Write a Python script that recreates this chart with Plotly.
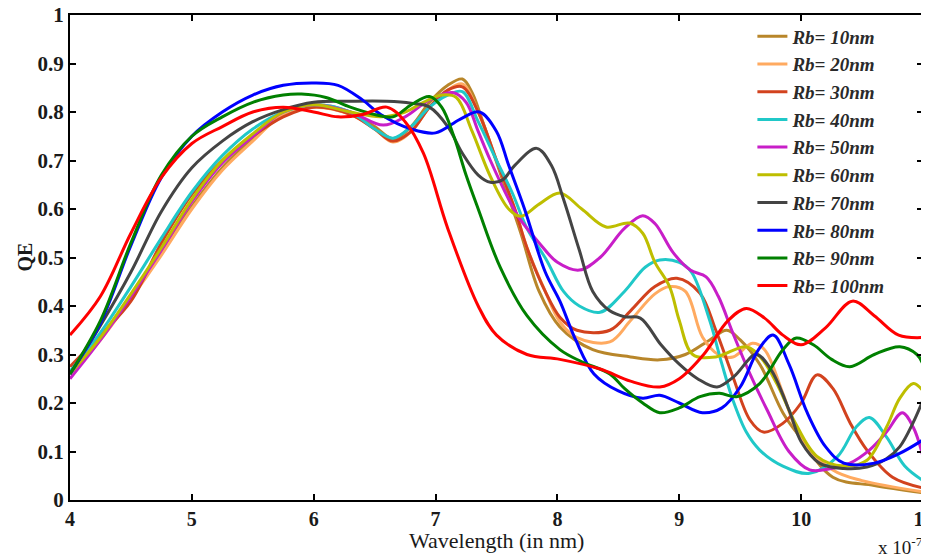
import plotly.graph_objects as go

# ---------------- data (wavelength in units of 1e-7 m) ----------------
labels = ["Rb= 10nm", "Rb= 20nm", "Rb= 30nm", "Rb= 40nm", "Rb= 50nm",
          "Rb= 60nm", "Rb= 70nm", "Rb= 80nm", "Rb= 90nm", "Rb= 100nm"]
colors = ["#B8862A", "#FFAA60", "#D2421E", "#20C8C8", "#C81EC8",
          "#BEBE00", "#444444", "#0000FF", "#008000", "#FF0000"]

x_10 = [4, 4.25, 4.5, 4.75, 5, 5.25, 5.5, 5.75, 6, 6.3, 6.5, 6.65, 6.8, 6.95, 7.1, 7.22, 7.3, 7.4, 7.55, 7.7, 7.85, 8.02, 8.29, 8.6, 8.84, 9.05, 9.25, 9.39, 9.5, 9.66, 9.85, 9.99, 10.26, 10.6, 11]
y_10 = [0.26, 0.335, 0.42, 0.51, 0.605, 0.685, 0.745, 0.795, 0.815, 0.80, 0.77, 0.745, 0.77, 0.82, 0.855, 0.868, 0.84, 0.77, 0.66, 0.55, 0.43, 0.357, 0.31, 0.295, 0.289, 0.30, 0.33, 0.35, 0.33, 0.28, 0.18, 0.13, 0.047, 0.03, 0.015]

x_20 = [4, 4.25, 4.5, 4.75, 5, 5.25, 5.5, 5.75, 6, 6.3, 6.5, 6.65, 6.8, 6.95, 7.1, 7.22, 7.35, 7.5, 7.65, 7.75, 7.9, 8.02, 8.16, 8.43, 8.6, 8.8, 8.92, 9.05, 9.19, 9.32, 9.44, 9.6, 9.7, 9.85, 9.99, 10.26, 10.5, 11]
y_20 = [0.26, 0.33, 0.415, 0.505, 0.60, 0.68, 0.74, 0.795, 0.81, 0.795, 0.765, 0.738, 0.76, 0.81, 0.845, 0.858, 0.80, 0.70, 0.60, 0.52, 0.43, 0.367, 0.335, 0.326, 0.37, 0.425, 0.44, 0.43, 0.336, 0.30, 0.295, 0.323, 0.31, 0.22, 0.13, 0.062, 0.04, 0.017]

x_30 = [4, 4.25, 4.5, 4.75, 5, 5.25, 5.5, 5.75, 6, 6.3, 6.5, 6.65, 6.8, 6.95, 7.1, 7.22, 7.35, 7.5, 7.65, 7.75, 7.9, 8.02, 8.16, 8.43, 8.6, 8.8, 8.98, 9.17, 9.3, 9.44, 9.58, 9.69, 9.85, 10.0, 10.13, 10.26, 10.4, 10.54, 10.75, 11]
y_30 = [0.275, 0.34, 0.41, 0.53, 0.63, 0.70, 0.75, 0.79, 0.81, 0.795, 0.765, 0.74, 0.76, 0.81, 0.845, 0.852, 0.80, 0.70, 0.60, 0.52, 0.43, 0.377, 0.35, 0.35, 0.39, 0.44, 0.457, 0.426, 0.35, 0.254, 0.165, 0.14, 0.158, 0.20, 0.258, 0.23, 0.16, 0.103, 0.047, 0.025]

x_40 = [4, 4.25, 4.5, 4.75, 5, 5.25, 5.5, 5.75, 6, 6.3, 6.5, 6.65, 6.8, 6.95, 7.1, 7.22, 7.35, 7.5, 7.63, 7.75, 7.91, 8.05, 8.18, 8.35, 8.55, 8.72, 8.84, 9.0, 9.1, 9.25, 9.35, 9.44, 9.55, 9.66, 9.85, 10.07, 10.3, 10.45, 10.56, 10.7, 10.85, 11]
y_40 = [0.265, 0.345, 0.44, 0.54, 0.635, 0.71, 0.765, 0.80, 0.815, 0.80, 0.765, 0.746, 0.77, 0.81, 0.835, 0.842, 0.78, 0.70, 0.633, 0.56, 0.495, 0.43, 0.40, 0.387, 0.43, 0.48, 0.495, 0.49, 0.47, 0.37, 0.28, 0.206, 0.14, 0.103, 0.07, 0.055, 0.09, 0.15, 0.17, 0.13, 0.07, 0.04]

x_50 = [4, 4.25, 4.5, 4.75, 5, 5.25, 5.5, 5.75, 6, 6.3, 6.57, 6.75, 6.95, 7.14, 7.25, 7.35, 7.45, 7.6, 7.69, 7.85, 8.0, 8.18, 8.35, 8.55, 8.7, 8.8, 8.95, 9.09, 9.22, 9.32, 9.44, 9.58, 9.72, 9.9, 10.07, 10.25, 10.4, 10.56, 10.7, 10.83, 10.92, 11]
y_50 = [0.25, 0.33, 0.42, 0.515, 0.615, 0.695, 0.75, 0.80, 0.815, 0.80, 0.773, 0.79, 0.825, 0.84, 0.82, 0.76, 0.70, 0.62, 0.58, 0.53, 0.49, 0.474, 0.50, 0.56, 0.586, 0.57, 0.51, 0.474, 0.46, 0.42, 0.344, 0.26, 0.186, 0.10, 0.062, 0.065, 0.076, 0.103, 0.14, 0.18, 0.15, 0.09]

x_60 = [4, 4.25, 4.5, 4.75, 5, 5.25, 5.5, 5.75, 6, 6.3, 6.55, 6.75, 6.9, 7.05, 7.17, 7.3, 7.45, 7.6, 7.7, 7.85, 8.02, 8.2, 8.4, 8.59, 8.7, 8.8, 8.92, 9.0, 9.11, 9.3, 9.55, 9.68, 9.8, 9.95, 10.13, 10.35, 10.54, 10.7, 10.81, 10.92, 11]
y_60 = [0.26, 0.335, 0.425, 0.52, 0.62, 0.70, 0.755, 0.80, 0.815, 0.80, 0.79, 0.80, 0.82, 0.835, 0.83, 0.76, 0.667, 0.60, 0.585, 0.61, 0.633, 0.60, 0.563, 0.571, 0.55, 0.49, 0.44, 0.37, 0.30, 0.295, 0.316, 0.29, 0.24, 0.16, 0.09, 0.07, 0.082, 0.15, 0.21, 0.24, 0.225]

x_70 = [4, 4.25, 4.5, 4.75, 5, 5.25, 5.5, 5.75, 6, 6.3, 6.6, 6.8, 6.95, 7.1, 7.22, 7.35, 7.45, 7.55, 7.65, 7.83, 7.95, 8.05, 8.18, 8.29, 8.43, 8.55, 8.68, 8.85, 9.0, 9.15, 9.31, 9.45, 9.63, 9.75, 9.9, 10.0, 10.15, 10.35, 10.54, 10.7, 10.81, 10.92, 11]
y_70 = [0.26, 0.36, 0.47, 0.595, 0.685, 0.74, 0.78, 0.805, 0.82, 0.822, 0.822, 0.818, 0.81, 0.77, 0.715, 0.67, 0.655, 0.66, 0.69, 0.725, 0.69, 0.62, 0.515, 0.43, 0.39, 0.378, 0.375, 0.32, 0.28, 0.25, 0.233, 0.255, 0.30, 0.27, 0.186, 0.12, 0.076, 0.065, 0.068, 0.085, 0.11, 0.16, 0.206]

x_80 = [4, 4.25, 4.5, 4.75, 5, 5.25, 5.5, 5.75, 6, 6.2, 6.4, 6.55, 6.8, 7.0, 7.2, 7.36, 7.5, 7.6, 7.73, 7.9, 8.02, 8.15, 8.3, 8.5, 8.7, 8.84, 9.0, 9.19, 9.35, 9.5, 9.65, 9.77, 9.9, 10.05, 10.2, 10.35, 10.6, 10.8, 11]
y_80 = [0.26, 0.365, 0.525, 0.665, 0.75, 0.80, 0.835, 0.855, 0.86, 0.855, 0.825, 0.795, 0.765, 0.757, 0.785, 0.80, 0.76, 0.69, 0.60, 0.47, 0.41, 0.33, 0.26, 0.225, 0.21, 0.216, 0.20, 0.18, 0.19, 0.233, 0.31, 0.34, 0.28, 0.18, 0.11, 0.076, 0.076, 0.095, 0.124]

x_90 = [4, 4.25, 4.5, 4.75, 5, 5.25, 5.5, 5.75, 5.9, 6.1, 6.3, 6.5, 6.65, 6.8, 6.95, 7.05, 7.15, 7.25, 7.35, 7.53, 7.75, 8.02, 8.2, 8.43, 8.55, 8.7, 8.84, 9.0, 9.17, 9.33, 9.47, 9.66, 9.85, 9.96, 10.1, 10.25, 10.4, 10.6, 10.81, 10.95, 11]
y_90 = [0.26, 0.37, 0.53, 0.67, 0.75, 0.79, 0.82, 0.835, 0.837, 0.83, 0.81, 0.795, 0.79, 0.815, 0.832, 0.81, 0.75, 0.67, 0.60, 0.48, 0.38, 0.31, 0.285, 0.26, 0.23, 0.20, 0.18, 0.19, 0.213, 0.22, 0.213, 0.24, 0.31, 0.334, 0.32, 0.29, 0.275, 0.30, 0.316, 0.30, 0.28]

x_100 = [4, 4.25, 4.5, 4.75, 5, 5.25, 5.5, 5.75, 6, 6.2, 6.4, 6.6, 6.75, 6.9, 7.1, 7.35, 7.5, 7.75, 8.02, 8.35, 8.6, 8.84, 9.0, 9.2, 9.4, 9.55, 9.7, 9.85, 10.0, 10.2, 10.42, 10.6, 10.8, 11]
y_100 = [0.34, 0.42, 0.55, 0.665, 0.735, 0.77, 0.80, 0.81, 0.80, 0.79, 0.795, 0.81, 0.78, 0.715, 0.56, 0.40, 0.34, 0.30, 0.29, 0.27, 0.245, 0.233, 0.25, 0.30, 0.37, 0.395, 0.375, 0.34, 0.32, 0.355, 0.41, 0.38, 0.34, 0.335]

xs = [x_10, x_20, x_30, x_40, x_50, x_60, x_70, x_80, x_90, x_100]
ys = [y_10, y_20, y_30, y_40, y_50, y_60, y_70, y_80, y_90, y_100]

x_ticks = [4, 5, 6, 7, 8, 9, 10, 11]
y_ticks = [0, 0.1, 0.2, 0.3, 0.4, 0.5, 0.6, 0.7, 0.8, 0.9, 1]
y_ticktext = ["0", "0.1", "0.2", "0.3", "0.4", "0.5", "0.6", "0.7", "0.8", "0.9", "1"]

SERIF = "Liberation Serif, Times New Roman, serif"

fig = go.Figure()
for i, (lab, col) in enumerate(zip(labels, colors)):
    fig.add_trace(go.Scatter(
        x=xs[i], y=ys[i], mode="lines", name="<b><i>" + lab + "</i></b>",
        legendgroup=str(i),
        line=dict(color=col, width=3, shape="spline", smoothing=1.0),
    ))

axis_common = dict(
    showgrid=False, zeroline=False, showline=True, linecolor="black",
    linewidth=2, mirror="ticks", ticks="inside", ticklen=6, tickwidth=2,
    tickcolor="black", automargin=False, ticklabeloverflow="allow",
)

# the page body adds an 8px offset, so the figure is sized 921x550
fig.update_layout(
    width=921, height=550,
    margin=dict(l=62, r=6, t=7, b=58),
    paper_bgcolor="white", plot_bgcolor="white",
    font=dict(family=SERIF, color="black", size=16),
    xaxis=dict(range=[4, 11], tickvals=x_ticks,
               ticktext=["<b>%d</b>" % t for t in x_ticks],
               tickfont=dict(family=SERIF, size=20, color="#1a1a1a"),
               **axis_common),
    yaxis=dict(range=[0, 1], tickvals=y_ticks,
               ticktext=["<b>%s</b>" % t for t in y_ticktext],
               tickfont=dict(family=SERIF, size=21, color="#1a1a1a"),
               ticklabelstandoff=0,
               **axis_common),
    showlegend=True,
    legend=dict(x=0.80, y=0.995, xanchor="left", yanchor="top",
                bgcolor="rgba(255,255,255,0)", borderwidth=0,
                font=dict(family=SERIF, size=19, color="#2a2a2a"),
                tracegroupgap=0, itemwidth=30),
)

# axis titles
fig.add_annotation(x=0.5, y=0, xref="paper", yref="paper", xanchor="center", yanchor="middle",
                   yshift=-40, showarrow=False, text="Wavelength (in nm)",
                   font=dict(family=SERIF, size=22, color="#1a1a1a"))
fig.add_annotation(x=0, y=0.5, xref="paper", yref="paper", xanchor="center", yanchor="middle",
                   xshift=-46, showarrow=False, text="<b>QE</b>", textangle=-90,
                   font=dict(family=SERIF, size=20, color="#1a1a1a"))
# exponent note
fig.add_annotation(x=1.0, y=0, xref="paper", yref="paper", xanchor="right", yanchor="top",
                   yshift=-32, xshift=2, showarrow=False,
                   text="x 10<sup>-7</sup>", font=dict(family=SERIF, size=19, color="#1a1a1a"))

fig.write_html("out.html")
